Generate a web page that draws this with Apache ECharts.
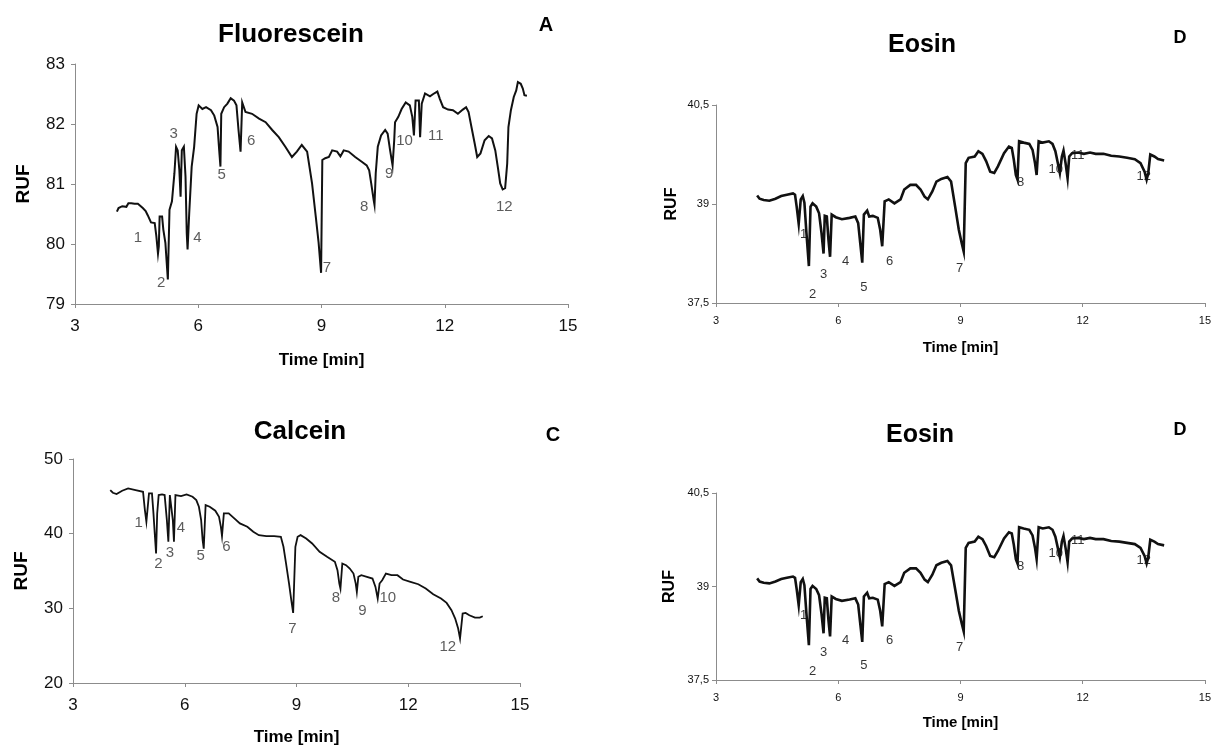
<!DOCTYPE html>
<html>
<head>
<meta charset="utf-8">
<script src="https://cdn.jsdelivr.net/npm/echarts@6/dist/echarts.min.js"></script>
<style>
  html, body { margin: 0; padding: 0; background: #fff; }
  #chart { width: 1214px; height: 749px; }
</style>
</head>
<body>
<div id="chart"></div>
<script>
// Fluorescein trace (time in min, RUF)
const fluoTime = [4.02,4.06,4.09,4.15,4.25,4.30,4.37,4.45,4.53,4.65,4.72,4.77,4.85,4.94,4.98,5.02,5.04,5.06,5.12,5.15,5.20,5.23,5.26,5.28,5.30,5.36,5.42,5.46,5.50,5.54,5.57,5.60,5.65,5.69,5.72,5.74,5.78,5.84,5.90,5.96,6.01,6.10,6.19,6.31,6.39,6.47,6.51,6.54,6.56,6.63,6.71,6.79,6.87,6.93,6.98,7.03,7.07,7.15,7.31,7.48,7.64,7.80,7.96,8.12,8.28,8.40,8.52,8.65,8.77,8.86,8.93,8.99,9.02,9.09,9.18,9.26,9.38,9.46,9.54,9.66,9.82,9.98,10.10,10.16,10.21,10.27,10.29,10.32,10.37,10.45,10.55,10.61,10.67,10.73,10.77,10.79,10.87,10.95,11.05,11.15,11.21,11.25,11.29,11.33,11.37,11.40,11.44,11.52,11.64,11.72,11.82,11.88,11.96,12.08,12.20,12.32,12.44,12.52,12.58,12.65,12.73,12.79,12.87,12.97,13.07,13.15,13.23,13.29,13.35,13.41,13.47,13.52,13.55,13.61,13.68,13.74,13.78,13.85,13.90,13.94,14.00];
const fluoRuf = [80.54,80.60,80.57,80.63,80.62,80.68,80.68,80.67,80.67,80.60,80.55,80.48,80.36,80.35,80.13,79.84,79.96,80.46,80.46,80.24,80.02,79.71,79.41,79.41,80.57,80.71,81.18,81.62,81.56,81.23,80.79,81.56,81.62,81.12,80.18,79.91,80.51,81.29,81.62,82.17,82.31,82.25,82.28,82.23,82.14,81.95,81.56,81.29,82.17,82.28,82.34,82.43,82.39,82.31,81.90,81.54,82.36,82.20,82.17,82.09,82.03,81.90,81.78,81.62,81.45,81.54,81.65,81.54,81.01,80.46,80.02,79.52,81.40,81.43,81.45,81.56,81.54,81.46,81.56,81.54,81.45,81.37,81.31,81.23,81.01,80.73,80.65,81.18,81.62,81.81,81.90,81.84,81.56,81.31,81.73,82.03,82.12,82.25,82.36,82.31,82.12,81.81,82.39,82.42,82.39,81.78,82.34,82.51,82.46,82.50,82.54,82.42,82.28,82.24,82.23,82.17,82.24,82.28,82.20,81.95,81.67,81.45,81.51,81.73,81.80,81.76,81.56,81.29,81.01,80.91,80.93,81.34,81.95,82.23,82.45,82.56,82.70,82.67,82.59,82.48,82.47];
const fluoPeaks = [[4.53,80.11,'1'],[5.10,79.35,'2'],[5.40,81.84,'3'],[5.98,80.11,'4'],[6.57,81.15,'5'],[7.29,81.72,'6'],[9.13,79.60,'7'],[10.04,80.62,'8'],[10.65,81.17,'9'],[11.02,81.72,'10'],[11.78,81.81,'11'],[13.45,80.62,'12']];

// Calcein trace
const calTime = [4.00,4.07,4.17,4.32,4.48,4.68,4.88,4.93,4.97,5.02,5.04,5.12,5.16,5.20,5.23,5.26,5.30,5.39,5.46,5.52,5.56,5.60,5.65,5.68,5.71,5.75,5.90,6.05,6.21,6.31,6.38,6.44,6.48,6.51,6.56,6.67,6.82,6.92,6.97,7.00,7.05,7.18,7.33,7.48,7.68,7.84,7.99,8.19,8.40,8.58,8.65,8.72,8.80,8.86,8.91,8.94,8.97,9.03,9.11,9.26,9.42,9.62,9.82,10.03,10.10,10.15,10.18,10.23,10.33,10.43,10.53,10.59,10.62,10.66,10.74,10.89,11.04,11.12,11.18,11.23,11.30,11.40,11.55,11.71,11.86,12.06,12.27,12.47,12.67,12.88,13.03,13.16,13.26,13.34,13.39,13.42,13.46,13.54,13.64,13.79,13.92,14.00];
const calRuf = [45.84,45.48,45.30,45.75,46.06,45.84,45.61,43.16,41.60,41.46,45.39,45.39,42.71,39.58,37.34,42.71,45.17,45.26,45.17,41.81,38.91,45.17,45.17,41.81,38.91,45.17,45.03,45.26,44.94,44.50,43.60,41.81,39.13,38.00,43.83,43.60,43.07,42.26,40.92,39.67,42.71,42.71,42.04,41.37,40.92,40.25,39.80,39.67,39.67,39.58,38.24,36.00,33.32,31.09,29.39,29.39,38.24,39.58,39.80,39.36,38.69,37.57,36.90,36.23,35.11,33.32,32.65,36.00,35.78,35.33,34.66,33.32,32.20,34.22,34.44,34.22,33.99,32.87,31.31,33.32,33.77,34.66,34.44,34.44,33.86,33.55,33.23,32.65,31.89,31.31,30.73,29.75,28.63,27.29,25.95,25.72,29.30,29.39,29.07,28.76,28.76,28.94];
const calPeaks = [[4.76,41.4,'1'],[5.29,36.0,'2'],[5.60,37.4,'3'],[5.90,40.8,'4'],[6.43,37.0,'5'],[7.12,38.2,'6'],[8.89,27.3,'7'],[10.06,31.4,'8'],[10.77,29.7,'9'],[11.45,31.4,'10'],[13.06,24.8,'12']];

// Eosin trace
const eosTime = [4.01,4.07,4.17,4.31,4.46,4.60,4.74,4.89,4.94,4.98,5.03,5.08,5.13,5.17,5.22,5.28,5.32,5.37,5.46,5.53,5.59,5.64,5.67,5.72,5.76,5.80,5.84,5.94,6.09,6.28,6.42,6.49,6.54,6.59,6.63,6.71,6.76,6.85,6.97,7.03,7.08,7.14,7.24,7.38,7.53,7.62,7.77,7.91,8.02,8.12,8.20,8.31,8.41,8.53,8.68,8.77,8.87,8.96,9.03,9.08,9.13,9.20,9.35,9.44,9.54,9.63,9.73,9.83,9.92,10.07,10.19,10.26,10.31,10.36,10.40,10.44,10.55,10.69,10.77,10.83,10.87,10.92,11.02,11.17,11.26,11.33,11.39,11.44,11.49,11.53,11.58,11.63,11.67,11.74,11.89,12.03,12.18,12.32,12.51,12.70,12.90,13.09,13.28,13.42,13.52,13.57,13.61,13.66,13.76,13.85,14.00];
const eosRuf = [39.13,39.08,39.06,39.05,39.08,39.12,39.14,39.16,39.14,38.96,38.70,39.07,39.12,39.02,38.56,38.06,38.96,39.01,38.96,38.86,38.56,38.25,38.82,38.81,38.46,38.20,38.84,38.80,38.77,38.79,38.81,38.71,38.41,38.11,38.84,38.90,38.81,38.82,38.79,38.61,38.36,39.04,39.07,39.01,39.07,39.22,39.29,39.29,39.22,39.11,39.07,39.19,39.34,39.38,39.41,39.34,38.96,38.61,38.41,38.28,39.62,39.70,39.72,39.80,39.76,39.65,39.49,39.47,39.57,39.77,39.87,39.85,39.67,39.44,39.37,39.95,39.93,39.91,39.82,39.62,39.44,39.95,39.93,39.95,39.91,39.80,39.62,39.47,39.72,39.81,39.62,39.39,39.72,39.77,39.78,39.76,39.78,39.76,39.76,39.73,39.72,39.70,39.68,39.62,39.49,39.37,39.47,39.75,39.72,39.68,39.66];
const eosPeaks = [[5.15,38.54,'1'],[5.37,37.63,'2'],[5.64,37.94,'3'],[6.18,38.13,'4'],[6.63,37.74,'5'],[7.26,38.13,'6'],[8.98,38.03,'7'],[10.48,39.33,'8'],[10.83,40.52,'9'],[11.34,39.53,'10'],[11.88,39.74,'11'],[13.50,39.42,'12']];

// Axis tick values
const timeTicks = [3, 6, 9, 12, 15];
const fluoTicks = [79, 80, 81, 82, 83];
const calTicks = [20, 30, 40, 50];
const eosTicks = [37.5, 39, 40.5];

const zip = (xs, ys) => xs.map((x, i) => [x, ys[i]]);
const SANS = 'Liberation Sans, Arial, sans-serif';
const NARROW = 'Liberation Sans Narrow, Liberation Sans, Arial, sans-serif';

// Panel geometry (grid boxes) and typography per panel
const panels = [
  { key: 'A', title: 'Fluorescein', tag: 'A', grid: { left: 75, top: 64, width: 493, height: 240 },
    y: { min: 79, max: 83, interval: 1 }, time: fluoTime, ruf: fluoRuf, peaks: fluoPeaks,
    tickFont: 17, tickFamily: SANS, nameFont: 17, rufFont: 19, xGap: 48, yGap: 42, lineW: 2, peakFont: 15, peakWeight: 'normal', peakColor: '#333',
    titleXY: [291, 35], titleFont: 26, tagXY: [546, 25], tagFont: 20 },
  { key: 'C', title: 'Calcein', tag: 'C', grid: { left: 73, top: 459, width: 447, height: 224 },
    y: { min: 20, max: 50, interval: 10 }, time: calTime, ruf: calRuf, peaks: calPeaks,
    tickFont: 17, tickFamily: SANS, nameFont: 17, rufFont: 19, xGap: 46, yGap: 42, lineW: 1.8, peakFont: 15, peakWeight: 'normal', peakColor: '#333',
    titleXY: [300, 432], titleFont: 26, tagXY: [553, 435], tagFont: 20 },
  { key: 'D1', title: 'Eosin', tag: 'D', grid: { left: 716, top: 105, width: 489, height: 198 },
    y: { min: 37.5, max: 40.5, interval: 1.5 }, time: eosTime, ruf: eosRuf, peaks: eosPeaks,
    tickFont: 11, tickFamily: NARROW, nameFont: 15, rufFont: 16, xGap: 37, yGap: 36, lineW: 2.6, peakFont: 13, peakWeight: 'normal', peakColor: '#000',
    titleXY: [922, 45], titleFont: 25, tagXY: [1180, 38], tagFont: 18 },
  { key: 'D2', title: 'Eosin', tag: 'D', grid: { left: 716, top: 493, width: 489, height: 187 },
    y: { min: 37.5, max: 40.5, interval: 1.5 }, time: eosTime, ruf: eosRuf, peaks: eosPeaks,
    tickFont: 11, tickFamily: NARROW, nameFont: 15, rufFont: 16, xGap: 35, yGap: 38, lineW: 2.6, peakFont: 13, peakWeight: 'normal', peakColor: '#000',
    titleXY: [920, 435], titleFont: 25, tagXY: [1180, 430], tagFont: 18 }
];

const axisLineStyle = { color: '#8c8c8c', width: 1 };
const fmtComma = v => String(v).replace('.', ',');

const option = {
  animation: false,
  backgroundColor: '#fff',
  grid: panels.map(p => Object.assign({ containLabel: false }, p.grid)),
  xAxis: panels.map((p, i) => ({
    type: 'value', gridIndex: i, min: timeTicks[0], max: timeTicks[timeTicks.length - 1], interval: 3,
    name: 'Time [min]', nameLocation: 'middle', nameGap: p.xGap,
    nameTextStyle: { fontFamily: SANS, fontWeight: 'bold', fontSize: p.nameFont, color: '#000' },
    axisLine: { show: true, lineStyle: axisLineStyle },
    axisTick: { show: true, length: 4, lineStyle: axisLineStyle },
    axisLabel: { fontFamily: p.tickFamily, fontSize: p.tickFont, color: '#111', margin: p.tickFont > 12 ? 14 : 12 },
    splitLine: { show: false }
  })),
  yAxis: panels.map((p, i) => ({
    type: 'value', gridIndex: i, min: p.y.min, max: p.y.max, interval: p.y.interval,
    name: 'RUF', nameLocation: 'middle', nameGap: p.yGap, nameRotate: 90,
    nameTextStyle: { fontFamily: SANS, fontWeight: 'bold', fontSize: p.rufFont, color: '#000' },
    axisLine: { show: true, lineStyle: axisLineStyle },
    axisTick: { show: true, length: 4, lineStyle: axisLineStyle },
    axisLabel: { fontFamily: p.tickFamily, fontSize: p.tickFont, color: '#111', margin: p.tickFont > 12 ? 10 : 7,
      formatter: fmtComma },
    splitLine: { show: false }
  })),
  series: [].concat(
    panels.map((p, i) => ({
      type: 'scatter', xAxisIndex: i, yAxisIndex: i, z: 1,
      symbolSize: 1, itemStyle: { color: 'rgba(0,0,0,0)' },
      data: p.peaks.map(d => ({ value: [d[0], d[1]], name: d[2] })),
      label: { show: true, position: 'inside', formatter: q => q.name,
        fontFamily: SANS, fontSize: p.peakFont, fontWeight: p.peakWeight, color: p.peakColor },
      silent: true
    })),
    panels.map((p, i) => ({
      type: 'line', xAxisIndex: i, yAxisIndex: i, z: 3,
      data: zip(p.time, p.ruf), showSymbol: false, symbol: 'none',
      lineStyle: { color: '#111', width: p.lineW, join: 'miter' },
      silent: true
    }))
  ),
  graphic: [].concat(
    panels.map(p => ({ type: 'text', x: p.titleXY[0], y: p.titleXY[1],
      style: { text: p.title, fontFamily: SANS, fontWeight: 'bold', fontSize: p.titleFont, fill: '#000', align: 'center', verticalAlign: 'middle' } })),
    panels.map(p => ({ type: 'text', x: p.tagXY[0], y: p.tagXY[1],
      style: { text: p.tag, fontFamily: SANS, fontWeight: 'bold', fontSize: p.tagFont, fill: '#000', align: 'center', verticalAlign: 'middle' } }))
  )
};

const chart = echarts.init(document.getElementById('chart'), null, { renderer: 'canvas' });
chart.setOption(option);
</script>
</body>
</html>
